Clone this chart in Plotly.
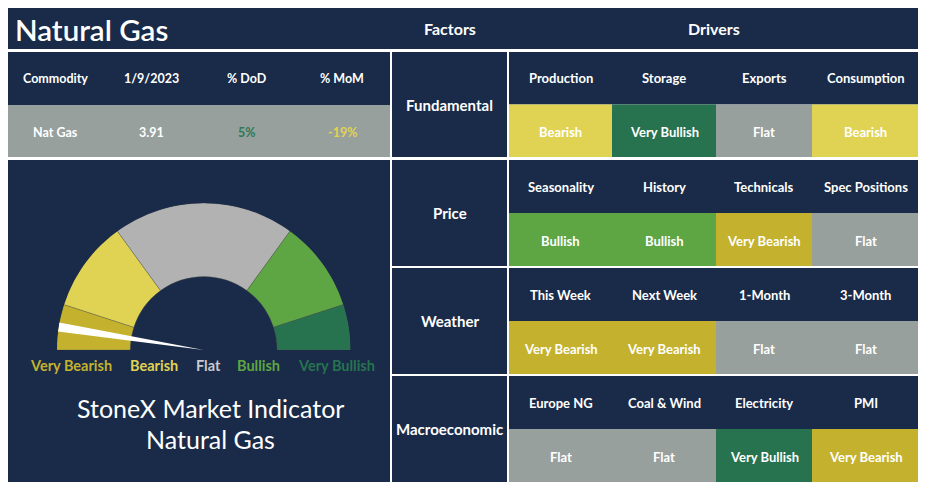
import plotly.graph_objects as go

# ---- data -------------------------------------------------------------
title = "Natural Gas"
commodity_headers = ["Commodity", "1/9/2023", "% DoD", "% MoM"]
commodity_values = ["Nat Gas", "3.91", "5%", "-19%"]

factors = ["Fundamental", "Price", "Weather", "Macroeconomic"]
drivers = [
    ["Production", "Storage", "Exports", "Consumption"],
    ["Seasonality", "History", "Technicals", "Spec Positions"],
    ["This Week", "Next Week", "1-Month", "3-Month"],
    ["Europe NG", "Coal & Wind", "Electricity", "PMI"],
]
signals = [
    ["Bearish", "Very Bullish", "Flat", "Bearish"],
    ["Bullish", "Bullish", "Very Bearish", "Flat"],
    ["Very Bearish", "Very Bearish", "Flat", "Flat"],
    ["Flat", "Flat", "Very Bullish", "Very Bearish"],
]

gauge_levels = ["Very Bearish", "Bearish", "Flat", "Bullish", "Very Bullish"]
gauge_weights = [1, 2, 4, 2, 1]
needle_value = 0.5  # position on the 0..10 gauge scale

indicator_text = ["StoneX Market Indicator", "Natural Gas"]

# ---- styles -----------------------------------------------------------
NAVY = "#192B48"
GRAY = "#98A09E"
FONT = "Lato"
cell_colors = {
    "Very Bearish": "#C4B22E",
    "Bearish": "#E0D354",
    "Flat": GRAY,
    "Bullish": "#5EA543",
    "Very Bullish": "#277350",
}
gauge_colors = ["#C4B22E", "#E0D354", "#B2B2B2", "#5EA543", "#277350"]
label_colors = ["#C4B22E", "#E0D354", "#C8CACE", "#5EA543", "#277350"]
value_colors = ["white", "white", "#2F7A55", "#E0D354"]

# page is 926x487, the plot div sits 8px in from the top-left corner
PAGE_W, PAGE_H, OFF = 926, 487, 8
W, H = PAGE_W - OFF, PAGE_H - OFF

# layout in page pixels
title_box = (8, 920, 7, 49)
left_x = (8, 390)
table_y = (52, 105, 157)
gauge_panel_y = (160, 482)
factor_x = (392, 507)
driver_edges = [509, 612, 716, 812, 919]
row_y = [(52, 157), (160, 266), (268, 374), (376, 482)]
gauge_cx, gauge_cy, gauge_r = 203.7, 350, 147

fig = go.Figure()
shapes = []
notes = []


def rect(x0, x1, y0, y1, color):
    shapes.append(dict(type="rect", xref="x", yref="y", x0=x0, x1=x1, y0=y0, y1=y1,
                       fillcolor=color, line_width=0, layer="below"))


def text(x, y, s, size, color="white", weight="bold"):
    notes.append(dict(x=x, y=y, xref="x", yref="y", text=s, showarrow=False,
                      font=dict(family=FONT, size=size, color=color, weight=weight),
                      xanchor="center", yanchor="middle"))


# title band
rect(title_box[0], title_box[1], title_box[2], title_box[3], NAVY)
notes.append(dict(x=13, y=29, xref="x", yref="y", text=title, showarrow=False,
                  font=dict(family=FONT, size=29.5, color="white", weight=600),
                  xanchor="left", yanchor="middle"))
text(sum(factor_x) / 2, 28, "Factors", 16)
text((driver_edges[0] + driver_edges[-1]) / 2, 28, "Drivers", 16)

# commodity table
col_w = (left_x[1] - left_x[0]) / len(commodity_headers)
rect(left_x[0], left_x[1], table_y[0], table_y[1], NAVY)
rect(left_x[0], left_x[1], table_y[1], table_y[2], GRAY)
for i, (hd, val) in enumerate(zip(commodity_headers, commodity_values)):
    cx = left_x[0] + col_w * (i + 0.5)
    text(cx, (table_y[0] + table_y[1]) / 2, hd, 12.5)
    text(cx, (table_y[1] + table_y[2]) / 2 + 1, val, 12.5, value_colors[i])

# factor / driver grid
for r, (fac, (y0, y1)) in enumerate(zip(factors, row_y)):
    ym = (y0 + y1) / 2
    rect(factor_x[0], factor_x[1], y0, y1, NAVY)
    text(sum(factor_x) / 2, ym, fac, 15)
    rect(driver_edges[0], driver_edges[-1], y0, ym, NAVY)
    for c in range(4):
        x0, x1 = driver_edges[c], driver_edges[c + 1]
        rect(x0, x1, ym, y1, cell_colors[signals[r][c]])
        text((x0 + x1) / 2, (y0 + ym) / 2, drivers[r][c], 13)
        text((x0 + x1) / 2, (ym + y1) / 2 + 1, signals[r][c], 13)

# gauge panel
rect(left_x[0], left_x[1], gauge_panel_y[0], gauge_panel_y[1], NAVY)

total = sum(gauge_weights)
deg = [w / total * 180 for w in gauge_weights]
starts = [sum(deg[:i]) for i in range(len(deg))]
fig.add_trace(go.Barpolar(
    r=[1] * len(deg), base=0, theta=[s + d / 2 for s, d in zip(starts, deg)], width=deg,
    marker=dict(color=gauge_colors, line=dict(color="rgba(90,90,80,0.6)", width=0.6)),
    hoverinfo="skip", subplot="polar",
))
needle_deg = needle_value / total * 180
fig.add_trace(go.Scatterpolar(
    r=[1, -1, 1, 1], theta=[needle_deg - 1.75, needle_deg, needle_deg + 1.75, needle_deg - 1.75],
    mode="lines", fill="toself", fillcolor="white", line=dict(width=0, color="white"),
    hoverinfo="skip", subplot="polar",
))

label_x = [71, 154, 208, 258, 336]
for lab, lx, col in zip(gauge_levels, label_x, label_colors):
    text(lx, 365, lab, 14.5, col)
text(210, 408, indicator_text[0], 25, weight="normal")
text(210, 439, indicator_text[1], 25, weight="normal")

# invisible anchor trace for the page-pixel axes
fig.add_trace(go.Scatter(x=[OFF, PAGE_W], y=[OFF, PAGE_H], mode="markers",
                         marker_opacity=0, hoverinfo="skip"))

fig.update_layout(
    width=W, height=H, margin=dict(l=0, r=0, t=0, b=0),
    paper_bgcolor="white", plot_bgcolor="white", showlegend=False,
    xaxis=dict(range=[OFF, PAGE_W], visible=False, fixedrange=True),
    yaxis=dict(range=[PAGE_H, OFF], visible=False, fixedrange=True),
    polar=dict(
        domain=dict(x=[(gauge_cx - gauge_r - OFF) / W, (gauge_cx + gauge_r - OFF) / W],
                    y=[(PAGE_H - gauge_cy) / H, (PAGE_H - gauge_cy + gauge_r) / H]),
        sector=[0, 180], hole=0, bgcolor="rgba(0,0,0,0)",
        radialaxis=dict(range=[-1, 1], visible=False),
        angularaxis=dict(visible=False, direction="clockwise", rotation=180,
                         thetaunit="degrees"),
    ),
    shapes=shapes, annotations=notes,
)

fig.write_html("out.html")
